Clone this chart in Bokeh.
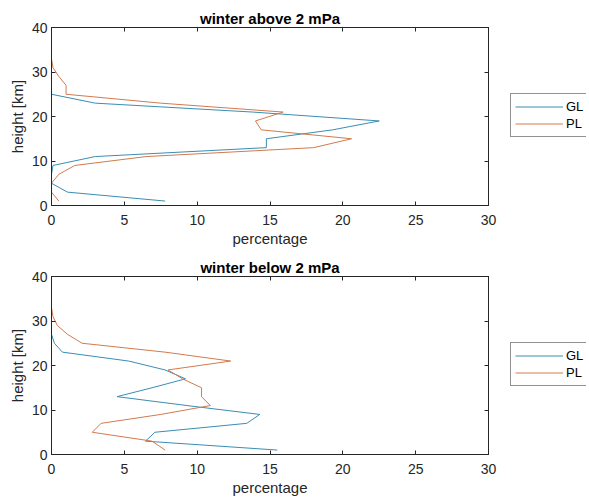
from bokeh.plotting import figure
from bokeh.models import LinearAxis, FixedTicker, Legend, LegendItem, Range1d, CustomLabelingPolicy
from bokeh.layouts import column, row
from bokeh.embed import file_html
from bokeh.resources import INLINE

heights = [1, 3, 5, 7, 9, 11, 13, 15, 17, 19, 21, 23, 25, 27, 29, 31, 33, 35]
gl_above = [7.8, 1.1, 0, 0, 0.1, 3.0, 14.75, 14.75, 19.3, 22.5, 13.8, 3.0, 0, 0, 0, 0, 0, 0]
pl_above = [0.5, 0, 0, 0.5, 1.6, 6.5, 18.0, 20.6, 14.4, 14.0, 15.9, 7.5, 1.0, 1.0, 0.5, 0.1, 0, 0]
gl_below = [15.5, 6.45, 7.1, 13.4, 14.3, 9.3, 4.5, 6.9, 9.2, 7.8, 5.3, 0.75, 0.2, 0, 0, 0, 0, 0]
pl_below = [7.8, 6.9, 2.8, 3.4, 7.5, 10.9, 10.3, 10.3, 9.0, 8.0, 12.3, 7.8, 2.1, 1.1, 0.4, 0.1, 0, 0]

x_ticks = [0, 5, 10, 15, 20, 25, 30]
y_ticks = [0, 10, 20, 30, 40]
titles = ["winter above 2 mPa", "winter below 2 mPa"]
series_names = ["GL", "PL"]
x_label = "percentage"
y_label = "height [km]"

COL_GL = "#3a8db4"
COL_PL = "#d27a4c"
AX = "#262626"
FONT = "Liberation Sans"
FIG_H = 248

NO_LABELS = "for (const i of indices) { indices.unset(i) } return indices"


def style_axis(ax, ticks, labels=True):
    ax.ticker = FixedTicker(ticks=ticks)
    ax.major_tick_in = 4
    ax.major_tick_out = 0
    ax.minor_tick_line_color = None
    ax.axis_line_color = AX
    ax.major_tick_line_color = AX
    ax.major_label_text_color = AX
    ax.major_label_text_font = FONT
    if labels:
        ax.major_label_text_font_size = "14px"
    else:
        ax.major_label_text_font_size = "0px"
        ax.major_label_standoff = 0
        ax.major_label_policy = CustomLabelingPolicy(code=NO_LABELS)


def make(title, gl, pl):
    p = figure(frame_width=437, frame_height=178, output_backend="svg", toolbar_location=None,
               x_range=Range1d(0, 30), y_range=Range1d(0, 40),
               min_border_left=51, min_border_right=10, min_border_top=27,
               min_border_bottom=FIG_H - 27 - 178)
    p.grid.visible = False
    p.outline_line_color = AX
    p.background_fill_color = "white"

    p.title.text = title
    p.title.align = "center"
    p.title.text_font = FONT
    p.title.text_font_size = "15px"
    p.title.text_font_style = "bold"
    p.title.text_color = "black"
    p.title.standoff = 2
    p.title.offset = 0

    style_axis(p.xaxis[0], x_ticks)
    style_axis(p.yaxis[0], y_ticks)
    p.xaxis[0].major_label_standoff = 9
    p.yaxis[0].major_label_standoff = 4
    p.xaxis[0].axis_label = x_label
    p.yaxis[0].axis_label = y_label
    for ax in (p.xaxis[0], p.yaxis[0]):
        ax.axis_label_text_font = FONT
        ax.axis_label_text_font_size = "15px"
        ax.axis_label_text_font_style = "normal"
        ax.axis_label_text_color = AX
    p.xaxis[0].axis_label_standoff = 2
    p.yaxis[0].axis_label_standoff = 3

    top = LinearAxis()
    style_axis(top, x_ticks, labels=False)
    p.add_layout(top, "above")
    right = LinearAxis()
    style_axis(right, y_ticks, labels=False)
    p.add_layout(right, "right")

    p.line(gl, heights, line_color=COL_GL, line_width=1)
    p.line(pl, heights, line_color=COL_PL, line_width=1)
    return p


def make_legend(width, gl, pl):
    # the series are drawn off-range here (clipped); only their legend entries show
    q = figure(frame_width=width, frame_height=FIG_H, output_backend="svg", toolbar_location=None,
               x_range=Range1d(1000, 1001), y_range=Range1d(1000, 1001), min_border=0)
    q.axis.visible = False
    q.grid.visible = False
    q.outline_line_color = None
    r1 = q.line(gl, heights, line_color=COL_GL, line_width=1)
    r2 = q.line(pl, heights, line_color=COL_PL, line_width=1)
    leg = Legend(items=[LegendItem(label=series_names[0], renderers=[r1]),
                        LegendItem(label=series_names[1], renderers=[r2])],
                 location=(12, 111))
    leg.border_line_color = AX
    leg.border_line_width = 1
    leg.background_fill_color = "white"
    leg.background_fill_alpha = 1
    leg.label_text_font = FONT
    leg.label_text_font_size = "13px"
    leg.label_text_color = "black"
    leg.glyph_width = 48
    leg.glyph_height = 17
    leg.label_height = 17
    leg.label_width = 17
    leg.label_standoff = 3
    leg.padding = 4
    leg.spacing = 0
    leg.margin = 0
    q.add_layout(leg, "center")
    return q


p1 = make(titles[0], gl_above, pl_above)
p2 = make(titles[1], gl_below, pl_below)
l1 = make_legend(88, gl_above, pl_above)
l2 = make_legend(88, gl_below, pl_below)
page = column(row(p1, l1, spacing=0), row(p2, l2, spacing=0), spacing=0)

open("out.html", "w").write(file_html(page, INLINE))
